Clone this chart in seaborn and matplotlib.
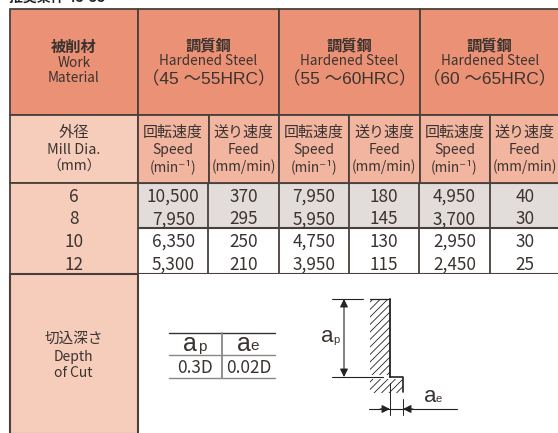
import matplotlib
matplotlib.use("Agg")
import matplotlib.pyplot as plt
from matplotlib.colors import ListedColormap
from matplotlib.patches import Rectangle
import numpy as np
import seaborn as sns

sns.set_theme(style="white")
plt.rcParams['font.family'] = ['Noto Sans CJK JP', 'DejaVu Sans']

W, H = 558, 433
LINE = '#4a3f3a'
TEXT = '#3a3330'
WIDE = ['Liberation Sans', 'Noto Sans CJK JP']

mill_dia = ["6", "8", "10", "12"]
speed_45 = ["10,500", "7,950", "6,350", "5,300"]
feed_45 = ["370", "295", "250", "210"]
speed_55 = ["7,950", "5,950", "4,750", "3,950"]
feed_55 = ["180", "145", "130", "115"]
speed_60 = ["4,950", "3,700", "2,950", "2,450"]
feed_60 = ["40", "30", "30", "25"]
hrc_ranges = ["（45 ～55HRC）", "（55 ～60HRC）", "（60 ～65HRC）"]
band = [1, 1, 0, 0]

col_x = [9.5, 138, 208.5, 279, 349, 419.5, 489.5, 560]
row_y = [9, 115, 183, 273.5, 434]

fig = plt.figure(figsize=(W / 100, H / 100), dpi=100)
ax = fig.add_axes([0, 0, 1, 1])
ax.set_xlim(0, W)
ax.set_ylim(H, 0)
ax.axis('off')


def box(x0, y0, x1, y1, fc, lw=1.3):
    ax.add_patch(Rectangle((x0, y0), x1 - x0, y1 - y0, fc=fc, ec=LINE, lw=lw, zorder=1))


def stack(x, items):
    for y, s, size, weight in items:
        ax.text(x, y, s, ha='center', va='center', fontsize=size, color=TEXT,
                fontweight=weight, zorder=5)


def hatch(x0, y0, x1, y1, step=7.5):
    # diagonal strokes clipped to the rectangle
    clip = Rectangle((x0, y0), x1 - x0, y1 - y0, transform=ax.transData)
    h = y1 - y0
    for c in np.arange(x0 + 3, x1 + h, step):
        line, = ax.plot([c - h, c], [y1, y0], color='#222222', lw=0.6, zorder=2)
        line.set_clip_path(clip)


# caption is cut off by the picture edge, only the feet of the letters show, wording is a guess
ax.text(9, -2, "推奨条件 45-55", fontsize=10, fontweight='bold', color='#222222', va='center')

# header row
box(col_x[0], row_y[0], col_x[1], row_y[1], '#EB9175')
stack((col_x[0] + col_x[1]) / 2, [(47, "被削材", 11, 'bold'), (63, "Work", 9.8, 'normal'),
                                  (78, "Material", 9.8, 'normal')])
for i, hrc in enumerate(hrc_ranges):
    x0, x1 = col_x[1 + 2 * i], col_x[3 + 2 * i]
    box(x0, row_y[0], x1, row_y[1], '#EB9175')
    stack((x0 + x1) / 2, [(45, "調質鋼", 11, 'bold'), (61, "Hardened Steel", 9.7, 'normal')])
    ax.text((x0 + x1) / 2, 79, hrc, ha='center', va='center', fontsize=12.5, color=TEXT,
            family=WIDE, zorder=5)

# sub header row
box(col_x[0], row_y[1], col_x[1], row_y[2], '#F6CDBB')
stack((col_x[0] + col_x[1]) / 2, [(133, "外径", 11, 'normal'), (150, "Mill Dia.", 10.4, 'normal'),
                                  (167, "（mm）", 10, 'normal')])
for i in range(6):
    x0, x1 = col_x[1 + i], col_x[2 + i]
    box(x0, row_y[1], x1, row_y[2], '#F2B5A0')
    if i % 2 == 0:
        rows = [(133, "回転速度", 10.8, 'normal'), (150, "Speed", 10, 'normal'),
                (167, "(min⁻¹)", 9.8, 'normal')]
    else:
        rows = [(133, "送り速度", 10.8, 'normal'), (150, "Feed", 10, 'normal'),
                (167, "(mm/min)", 9.8, 'normal')]
    stack((x0 + x1) / 2, rows)

# values as a heatmap
labels = np.array([speed_45, feed_45, speed_55, feed_55, speed_60, feed_60]).T
shade = np.tile(np.array(band)[:, None], (1, labels.shape[1]))
hx = fig.add_axes([col_x[1] / W, 1 - row_y[3] / H,
                   (col_x[7] - col_x[1]) / W, (row_y[3] - row_y[2]) / H])
sns.heatmap(shade, ax=hx, cmap=ListedColormap(['white', '#E2DDDA']), vmin=0, vmax=1, cbar=False,
            annot=labels, fmt='', annot_kws={'fontsize': 12.4, 'color': TEXT},
            xticklabels=False, yticklabels=False)
for t in hx.texts:
    x, y = t.get_position()
    t.set_position((x, y + 0.11))
hx.set_xlim(0, 6)
for i in range(7):
    hx.axvline(i, color=LINE, lw=1.3)
for y in (0, 2, 4):
    hx.axhline(y, color=LINE, lw=1.5)

# mill diameters
box(col_x[0], row_y[2], col_x[1], row_y[3], '#F6CDBB')
for i, d in enumerate(mill_dia):
    ax.text((col_x[0] + col_x[1]) / 2, row_y[2] + (i + 0.5) * 22.6 + 2.5, d, ha='center', va='center',
            fontsize=12.4, color=TEXT, zorder=5)

# depth of cut
box(col_x[0], row_y[3], col_x[1], row_y[4], '#F6CDBB', lw=1.5)
stack((col_x[0] + col_x[1]) / 2, [(339, "切込深さ", 10.5, 'normal'), (357, "Depth", 10, 'normal'),
                                  (373, "of Cut", 10, 'normal')])

ax.plot([169, 275], [333, 333], color='#333333', lw=1)
ax.plot([169, 275], [355, 355], color='#888888', lw=1)
ax.plot([169, 275], [378, 378], color='#888888', lw=1)
ax.plot([222, 222], [333, 378], color='#888888', lw=1.3)
for x, s in [(190, "a"), (244, "a")]:
    ax.text(x, 344, s, fontsize=18, ha='center', va='center', color=TEXT, family='Liberation Sans')
ax.text(202, 347, "p", fontsize=11, ha='center', va='center', color=TEXT, family='Liberation Sans')
ax.text(255, 346, "e", fontsize=11, ha='center', va='center', color=TEXT, family='Liberation Sans')
ax.text(195, 368, "0.3D", fontsize=12.4, ha='center', va='center', color=TEXT)
ax.text(249, 368, "0.02D", fontsize=12.4, ha='center', va='center', color=TEXT)

# cutting sketch
INK = '#222222'
ax.plot([332, 363], [299, 299], color=INK, lw=0.8)
ax.plot([332, 383], [377, 377], color=INK, lw=0.8)
ax.plot([370, 390], [299, 299], color=INK, lw=0.9)
ax.plot([390, 390], [299, 377], color=INK, lw=1.3)
ax.plot([390, 403, 403], [377, 377, 392], color=INK, lw=1.2)
ax.plot([390, 390], [383, 415], color=INK, lw=0.7)
ax.plot([403, 403], [399, 415], color=INK, lw=0.7)
hatch(370, 299, 390, 375)
hatch(370, 379, 403, 393)
ax.annotate("", xy=(344, 299), xytext=(344, 377),
            arrowprops=dict(arrowstyle='<|-|>', color=INK, lw=0.8, shrinkA=0, shrinkB=0))
ax.plot([369, 457], [409, 409], color=INK, lw=0.8)
ax.annotate("", xy=(390, 409), xytext=(380, 409),
            arrowprops=dict(arrowstyle='-|>', color=INK, lw=0.8, shrinkA=0, shrinkB=0))
ax.annotate("", xy=(403, 409), xytext=(413, 409),
            arrowprops=dict(arrowstyle='-|>', color=INK, lw=0.8, shrinkA=0, shrinkB=0))
ax.text(327, 337, "a", fontsize=16, ha='center', va='center', color=TEXT, family='Liberation Sans')
ax.text(336, 340, "p", fontsize=8, ha='center', va='center', color=TEXT, family='Liberation Sans')
ax.text(430, 397, "a", fontsize=16, ha='center', va='center', color=TEXT, family='Liberation Sans')
ax.text(439, 399, "e", fontsize=8, ha='center', va='center', color=TEXT, family='Liberation Sans')

fig.savefig("out.png", dpi=100)
